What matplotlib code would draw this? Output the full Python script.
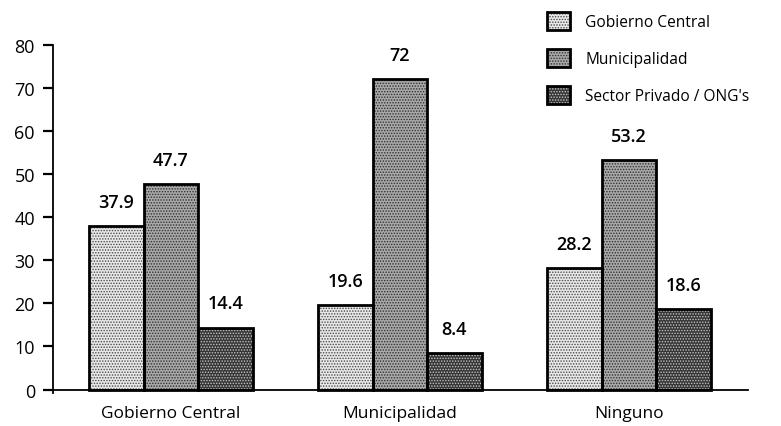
import matplotlib
matplotlib.use("Agg")
import matplotlib.pyplot as plt
from matplotlib.patches import Rectangle
import numpy as np

categories = ["Gobierno Central", "Municipalidad", "Ninguno"]
series_names = ["Gobierno Central", "Municipalidad", "Sector Privado / ONG's"]
gobierno_central = [37.9, 19.6, 28.2]
municipalidad = [47.7, 72, 53.2]
sector_privado = [14.4, 8.4, 18.6]
value_labels = [["37.9", "19.6", "28.2"], ["47.7", "72", "53.2"], ["14.4", "8.4", "18.6"]]
y_ticks = [0, 10, 20, 30, 40, 50, 60, 70, 80]

plt.rcParams["font.family"] = ["Open Sans", "DejaVu Sans"]
plt.rcParams["hatch.linewidth"] = 0.7

# (face colour, dot colour, hatch) per series: stippled grey textures
styles = [
    ("#e8e8e8", "#4a4a4a", "......"),
    ("#a8a8a8", "#303030", "......"),
    ("#363636", "#c4c4c4", "......"),
]

fig = plt.figure(figsize=(7.81, 4.27), dpi=100)
ax = fig.add_axes([53 / 781, 33 / 427, (748 - 53) / 781, (394 - 46) / 427])

x = np.arange(len(categories))
width = 0.238
series = [gobierno_central, municipalidad, sector_privado]
handles = []
for i, (vals, (fc, dc, hatch)) in enumerate(zip(series, styles)):
    pos = x + (i - 1) * width
    ax.bar(pos, vals, width, color=fc, edgecolor=dc, hatch=hatch, linewidth=0, zorder=2)
    ax.bar(pos, vals, width, fill=False, edgecolor="black", linewidth=2.0, zorder=3)
    for p, v, lab in zip(pos, vals, value_labels[i]):
        ax.annotate(lab, (p, v), xytext=(0, 11), textcoords="offset points",
                    ha="center", va="bottom", fontsize=13, fontweight="semibold")
    fill = Rectangle((0, 0), 1, 1, facecolor=fc, edgecolor=dc, hatch=hatch, linewidth=0)
    edge = Rectangle((0, 0), 1, 1, fill=False, edgecolor="black", linewidth=2.0)
    handles.append((fill, edge))

ax.set_xlim(-0.515, 2.52)
ax.set_ylim(-0.8, 80)
ax.spines["top"].set_visible(False)
ax.spines["right"].set_visible(False)
ax.spines["bottom"].set_position(("data", 0))
ax.spines["left"].set_bounds(-0.8, 80)
for s in ("left", "bottom"):
    ax.spines[s].set_linewidth(1.3)

ax.set_yticks(y_ticks)
ax.set_yticklabels([str(t) for t in y_ticks])
ax.tick_params(axis="y", direction="out", length=7, width=1.6, pad=6, labelsize=13)
ax.set_xticks(x)
ax.set_xticklabels(categories)
ax.tick_params(axis="x", length=0, pad=11, labelsize=12.5)

fig.legend(handles, series_names, loc="upper left",
           bbox_to_anchor=(547 / 781, 1 - 13 / 427), bbox_transform=fig.transFigure,
           frameon=False, fontsize=11.2, handlelength=1.45, handleheight=1.4,
           labelspacing=1.2, handletextpad=1.0, borderpad=0, borderaxespad=0)

fig.savefig("out.png", dpi=100)
